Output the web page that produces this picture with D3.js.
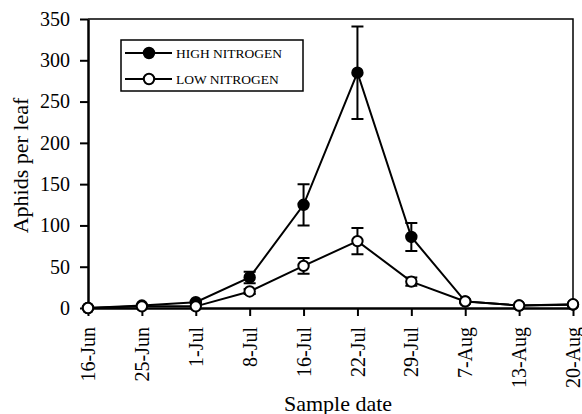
<!DOCTYPE html>
<html>
<head>
<meta charset="utf-8">
<script src="https://cdn.jsdelivr.net/npm/d3@7"></script>
<style>
  body { margin: 0; background: #fff; }
</style>
</head>
<body>
<div id="chart"></div>
<script>
const dates = ["16-Jun", "25-Jun", "1-Jul", "8-Jul", "16-Jul", "22-Jul", "29-Jul", "7-Aug", "13-Aug", "20-Aug"];
const highN = [0, 3, 7, 37, 125, 285, 86, 8, 3, 4];
const highErr = [0, 1, 1, 7, 25, 56, 17, 1, 0, 0];
const lowN = [0, 2, 2, 20, 51, 81, 32, 8, 3, 4.5];
const lowErr = [0, 0, 0, 3, 9.5, 16, 5, 0, 0, 0];
const yTicks = [0, 50, 100, 150, 200, 250, 300, 350];

const font = "Liberation Serif, serif";

const width = 582, height = 414;
const margin = { top: 19, right: 9, bottom: 106, left: 88 };
const innerWidth = width - margin.left - margin.right;
const innerHeight = height - margin.top - margin.bottom;

const svg = d3.select("#chart").append("svg")
  .attr("width", width)
  .attr("height", height)
  .attr("font-family", font);

const g = svg.append("g")
  .attr("transform", `translate(${margin.left},${margin.top})`);

const x = d3.scalePoint()
  .domain(dates)
  .range([0, innerWidth]);

const y = d3.scaleLinear()
  .domain([0, 350])
  .range([innerHeight, 0]);

// frame (top + right)
g.append("path")
  .attr("d", `M0,0H${innerWidth}V${innerHeight}`)
  .attr("fill", "none")
  .attr("stroke", "#000")
  .attr("stroke-width", 1.5);

const series = [
  { name: "HIGH NITROGEN", values: highN, err: highErr, fill: "#000" },
  { name: "LOW NITROGEN", values: lowN, err: lowErr, fill: "#fff" }
];

const line = d3.line()
  .x((d, i) => x(dates[i]))
  .y(d => y(d));

series.forEach(s => {
  // error bars
  const eb = g.append("g");
  s.values.forEach((v, i) => {
    const e = s.err[i];
    if (!e) return;
    const cx = x(dates[i]);
    eb.append("path")
      .attr("d", `M${cx},${y(v + e)}V${y(v - e)}M${cx - 6},${y(v + e)}H${cx + 6}M${cx - 6},${y(v - e)}H${cx + 6}`)
      .attr("stroke", "#000")
      .attr("stroke-width", 2)
      .attr("fill", "none");
  });

  g.append("path")
    .datum(s.values)
    .attr("d", line)
    .attr("fill", "none")
    .attr("stroke", "#000")
    .attr("stroke-width", 2);
});

// axes
const xAxis = g.append("g")
  .attr("transform", `translate(0,${innerHeight})`)
  .call(d3.axisBottom(x).tickSize(8).tickSizeOuter(0))
  .attr("font-family", font);
xAxis.select(".domain").attr("stroke-width", 2.5);
xAxis.selectAll(".tick line").attr("stroke-width", 2);
xAxis.selectAll(".tick text")
  .attr("font-size", 20)
  .attr("fill", "#000")
  .attr("transform", "rotate(-90)")
  .attr("text-anchor", "end")
  .attr("x", -19)
  .attr("y", 0)
  .attr("dy", "0.33em");

const yAxis = g.append("g")
  .call(d3.axisLeft(y).tickValues(yTicks).tickSize(8).tickSizeOuter(0))
  .attr("font-family", font);
yAxis.select(".domain").attr("stroke-width", 2.5);
yAxis.selectAll(".tick line").attr("stroke-width", 2);
yAxis.selectAll(".tick text")
  .attr("font-size", 20)
  .attr("fill", "#000")
  .attr("x", -18);

// markers on top of axes
series.forEach(s => {
  g.append("g")
    .selectAll("circle")
    .data(s.values)
    .join("circle")
      .attr("cx", (d, i) => x(dates[i]))
      .attr("cy", d => y(d))
      .attr("r", 5.2)
      .attr("fill", s.fill)
      .attr("stroke", "#000")
      .attr("stroke-width", 2);
});

// axis titles
svg.append("text")
  .attr("x", 338)
  .attr("y", 411)
  .attr("text-anchor", "middle")
  .attr("font-size", 22)
  .text("Sample date");

svg.append("text")
  .attr("transform", `translate(28,${margin.top + innerHeight / 2 + 2}) rotate(-90)`)
  .attr("text-anchor", "middle")
  .attr("font-size", 22)
  .text("Aphids per leaf");

// legend
const legend = svg.append("g")
  .attr("transform", "translate(121,40)");
legend.append("rect")
  .attr("width", 182)
  .attr("height", 51)
  .attr("fill", "#fff")
  .attr("stroke", "#000")
  .attr("stroke-width", 1.5);

series.forEach((s, i) => {
  const ly = 13 + i * 26;
  legend.append("line")
    .attr("x1", 4).attr("x2", 51)
    .attr("y1", ly).attr("y2", ly)
    .attr("stroke", "#000")
    .attr("stroke-width", 2);
  legend.append("circle")
    .attr("cx", 28).attr("cy", ly)
    .attr("r", 5.2)
    .attr("fill", s.fill)
    .attr("stroke", "#000")
    .attr("stroke-width", 2);
  legend.append("text")
    .attr("x", 55).attr("y", ly)
    .attr("dy", "0.35em")
    .attr("font-size", 13.5)
    .text(s.name);
});
</script>
</body>
</html>
